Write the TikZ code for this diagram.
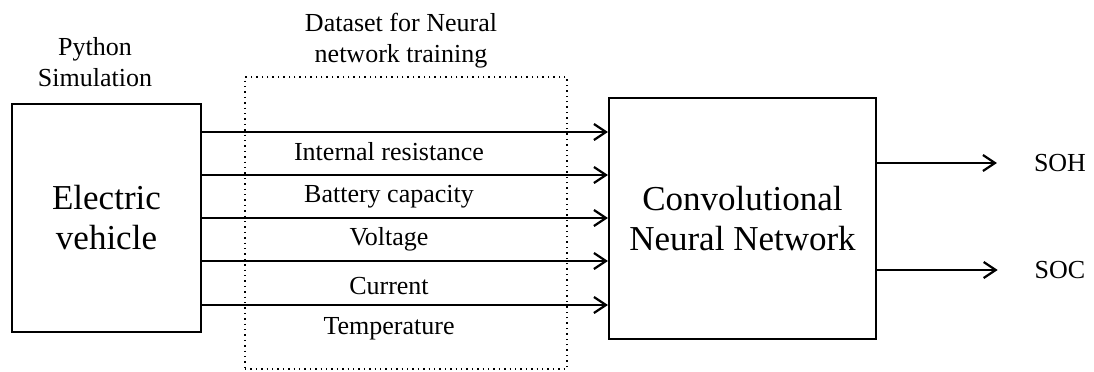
\documentclass[tikz,border=0pt]{standalone}
\usepackage{fontspec}
\setmainfont{Liberation Serif}
\usetikzlibrary{arrows.meta,positioning}

\begin{document}
\begin{tikzpicture}[x=0.5pt,y=-0.5pt,>={Straight Barb[length=6pt,width=8pt]},
                    block/.style={draw,line width=1.1pt,align=center,
                                  font=\fontsize{17.5}{20}\selectfont},
                    lbl/.style={align=center,font=\fontsize{13}{15.5}\selectfont},
                    feed/.style={->,line width=1.1pt}]

        \useasboundingbox (0,0) rectangle (1094,371);

        \node[draw,dotted,line width=0.7pt,minimum width=161pt,minimum height=146pt]
              (data) at (406,223) {};
        \node[block,minimum width=94.5pt,minimum height=114pt] (ev) at (106.5,218)
              {Electric\\vehicle};
        \node[block,minimum width=133.5pt,minimum height=120.5pt] (cnn) at (742.5,218.5)
              {Convolutional\\Neural Network};

        \node[lbl] (sim)  at (95,62)  {Python\\Simulation};
        \node[lbl] (dset) at (401,41) {Dataset for Neural\\network training};

        \foreach \y in {132,175,218,261,305}
            \draw[feed] (ev.east |- 0,\y) -- (cnn.west |- 0,\y);

        \node[lbl] (res)  at (389,152) {Internal resistance};
        \node[lbl] (cap)  at (389,197) {Battery capacity};
        \node[lbl] (volt) at (389,239) {Voltage};
        \node[lbl] (cur)  at (389,286) {Current};
        \node[lbl] (temp) at (389,329) {Temperature};

        \node[lbl] (soh) at (1060,163) {SOH};
        \node[lbl] (soc) at (1060,270) {SOC};

        \draw[feed,shorten >=15pt] (cnn.east |- soh) -- (soh.west);
        \draw[feed,shorten >=15pt] (cnn.east |- soc) -- (soc.west);
      \end{tikzpicture}
\end{document}
